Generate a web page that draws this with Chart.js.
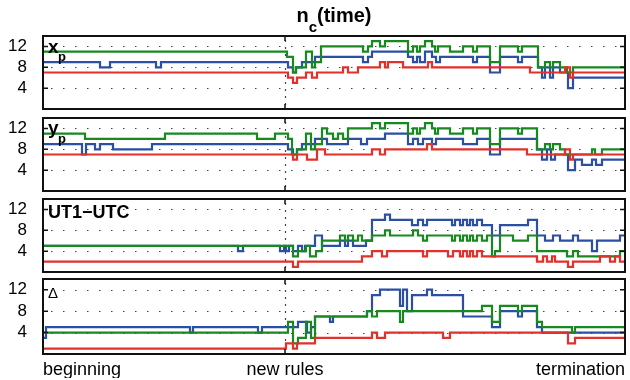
<!DOCTYPE html>
<html>
<head>
<meta charset="utf-8">
<script src="https://cdn.jsdelivr.net/npm/chart.js@4.4.0/dist/chart.umd.min.js"></script>
<style>
  body { margin: 0; background: #fff; }
  #wrap { position: relative; width: 630px; height: 380px; font-family: "Liberation Sans", Arial, sans-serif; color: #000; }
  #wrap canvas { position: absolute; left: 0; }
  .lbl { position: absolute; white-space: nowrap; line-height: 1; z-index: 2; }
</style>
</head>
<body>
<div id="wrap">
  <canvas id="c0" width="630" height="77" style="top:34px"></canvas>
  <canvas id="c1" width="630" height="77" style="top:116px"></canvas>
  <canvas id="c2" width="630" height="77" style="top:197px"></canvas>
  <canvas id="c3" width="630" height="103" style="top:277px"></canvas>

  <div class="lbl" style="top:5px;left:43px;width:582px;text-align:center;font-size:20px;font-weight:bold">n<span style="font-size:15px;position:relative;top:10px">c</span>(time)</div>
  <div class="lbl" style="top:37px;left:48px;font-size:19px;font-weight:bold">x</div>
  <div class="lbl" style="top:50px;left:58px;font-size:13px;font-weight:bold">p</div>
  <div class="lbl" style="top:118px;left:48px;font-size:19px;font-weight:bold">y</div>
  <div class="lbl" style="top:132px;left:58px;font-size:13px;font-weight:bold">p</div>
  <div class="lbl" style="top:203px;left:48px;font-size:18px;font-weight:bold">UT1&minus;UTC</div>
  <div class="lbl" style="top:285px;left:48px;font-size:15px">&Delta;</div>
</div>

<script>
// axis setup
const tickTimes = [0, 242, 582];
const tickLabels = ['beginning', 'new rules', 'termination'];
const yTicks = [4, 8, 12];

// step series: [time, n_c] change points
// x_p
const xpRed = [[0,7],[245,6],[250,5],[254,6],[263,7],[269,6],[274,7],[300,8],[305,7],[315,8],[337,9],[342,8],[345,9],[360,8],[385,9],[389,8],[487,7],[522,8],[527,6],[530,7],[582,7]];
const xpGreen = [[0,11],[244,10],[250,7],[253,8],[263,11],[269,8],[272,9],[278,12],[320,11],[325,12],[329,13],[337,12],[342,13],[365,11],[370,12],[374,11],[377,12],[382,13],[389,12],[392,11],[395,12],[407,11],[420,12],[430,11],[434,12],[447,9],[457,12],[475,11],[479,12],[495,8],[502,9],[507,8],[510,9],[517,8],[524,7],[530,8],[582,8]];
const xpBlue = [[0,9],[57,8],[67,9],[113,8],[118,9],[245,8],[250,7],[253,8],[259,9],[272,10],[320,9],[325,10],[329,11],[365,10],[370,9],[374,10],[377,9],[382,11],[389,10],[393,9],[397,10],[430,9],[434,10],[447,7],[457,10],[475,9],[479,10],[495,8],[499,6],[502,8],[507,6],[510,8],[517,7],[525,4],[530,6],[582,6]];

// y_p
const ypRed = [[0,7],[250,6],[254,7],[264,6],[274,8],[282,7],[329,8],[337,7],[342,8],[384,9],[389,8],[484,7],[522,8],[527,6],[530,7],[582,7]];
const ypGreen = [[0,11],[42,10],[122,11],[214,10],[232,11],[245,10],[249,7],[254,8],[263,11],[268,8],[272,9],[279,12],[284,11],[290,10],[295,11],[300,10],[305,12],[329,13],[337,12],[342,13],[365,11],[370,12],[374,11],[377,12],[382,13],[389,12],[392,11],[395,12],[407,11],[420,12],[430,11],[434,12],[447,9],[457,12],[475,11],[479,12],[494,8],[502,9],[507,8],[510,9],[517,8],[522,7],[549,8],[552,7],[559,8],[582,8]];
const ypBlue = [[0,9],[39,7],[43,9],[52,8],[57,9],[70,8],[109,9],[245,8],[250,7],[254,8],[259,9],[272,10],[284,9],[305,10],[318,9],[324,10],[342,11],[365,9],[370,10],[375,9],[380,10],[389,9],[393,10],[420,9],[434,10],[447,7],[457,10],[494,8],[499,6],[504,8],[508,6],[512,7],[525,4],[532,6],[539,5],[549,6],[553,5],[559,6],[582,6]];

// UT1-UTC
const utRed = [[0,2],[250,1],[255,2],[319,3],[329,4],[339,3],[344,4],[380,3],[384,4],[405,3],[410,4],[417,3],[420,4],[424,3],[427,4],[430,3],[434,4],[439,3],[494,2],[500,3],[504,2],[509,3],[512,2],[525,1],[530,2],[557,3],[567,2],[572,3],[577,2],[582,2]];
const utGreen = [[0,5],[250,3],[255,4],[263,5],[267,3],[273,4],[279,6],[297,7],[302,6],[305,7],[310,6],[315,7],[319,6],[329,7],[342,8],[347,7],[370,8],[375,7],[380,6],[384,7],[409,6],[412,7],[417,6],[420,7],[424,6],[427,7],[430,6],[434,7],[439,6],[444,7],[449,3],[452,4],[457,7],[470,6],[485,7],[494,4],[524,3],[530,4],[535,3],[577,4],[582,4]];
const utBlue = [[0,5],[195,4],[200,5],[237,4],[241,5],[243,4],[246,5],[250,4],[255,5],[259,4],[262,5],[272,7],[279,5],[297,6],[302,5],[305,6],[310,5],[323,6],[329,10],[342,11],[347,10],[369,9],[375,10],[380,9],[384,10],[409,9],[412,10],[417,9],[420,10],[424,9],[427,10],[430,9],[434,10],[439,9],[449,7],[457,9],[485,10],[494,7],[502,6],[510,7],[517,6],[530,7],[535,6],[549,4],[554,6],[577,7],[582,7]];

// Delta
const dRed = [[0,1],[243,2],[250,1],[254,2],[272,3],[329,4],[334,3],[342,4],[400,3],[407,4],[525,2],[532,3],[582,3]];
const dGreen = [[0,4],[245,6],[250,2],[255,3],[263,6],[268,3],[272,7],[324,8],[329,7],[334,8],[357,6],[360,8],[439,9],[449,6],[457,9],[475,8],[479,9],[494,6],[499,5],[529,4],[532,5],[582,5]];
const dBlue = [[0,3],[3,5],[147,4],[150,5],[215,4],[219,5],[255,6],[264,4],[268,5],[272,7],[287,6],[290,7],[324,8],[329,11],[337,12],[357,9],[360,12],[364,8],[369,11],[384,12],[389,11],[420,7],[449,5],[457,8],[475,7],[479,8],[494,5],[499,4],[582,4]];

const colors = {
    red: '#e2302a',
    green: '#17891f',
    blue: '#2a4fa3',
    frame: '#111',
    grid: '#444'
};

// dotted grid under the lines, box + inward ticks on top
const framePlugin = {
    id: 'frame',
    beforeDatasetsDraw(chart) {
        const { ctx, chartArea: a, scales: { x, y } } = chart;
        ctx.save();
        ctx.strokeStyle = colors.grid;
        ctx.lineWidth = 1.2;
        ctx.setLineDash([1.5, 10.5]);
        yTicks.forEach(v => {
            const py = Math.round(y.getPixelForValue(v)) + 0.5;
            ctx.beginPath(); ctx.moveTo(a.left + 8, py); ctx.lineTo(a.right, py); ctx.stroke();
        });
        ctx.setLineDash([2, 5]);
        tickTimes.slice(1, -1).forEach(t => {
            const px = Math.round(x.getPixelForValue(t)) + 0.5;
            ctx.beginPath(); ctx.moveTo(px, a.top + 4); ctx.lineTo(px, a.bottom); ctx.stroke();
        });
        ctx.restore();
    },
    afterDraw(chart) {
        const { ctx, chartArea: a, scales: { x, y } } = chart;
        ctx.save();
        ctx.strokeStyle = colors.frame;
        ctx.lineWidth = 1.5;
        yTicks.forEach(v => {
            const py = y.getPixelForValue(v);
            ctx.beginPath();
            ctx.moveTo(a.left, py); ctx.lineTo(a.left + 5, py);
            ctx.moveTo(a.right, py); ctx.lineTo(a.right - 5, py);
            ctx.stroke();
        });
        tickTimes.slice(1, -1).forEach(t => {
            const px = x.getPixelForValue(t);
            ctx.beginPath();
            ctx.moveTo(px, a.top); ctx.lineTo(px, a.top + 5);
            ctx.moveTo(px, a.bottom); ctx.lineTo(px, a.bottom - 5);
            ctx.stroke();
        });
        ctx.lineWidth = 2;
        ctx.strokeRect(a.left, a.top, a.right - a.left, a.bottom - a.top);
        ctx.restore();
    }
};

function line(points, color) {
    return {
        data: points.map(p => ({ x: p[0], y: p[1] })),
        borderColor: color,
        borderWidth: 2.2,
        stepped: true,
        pointRadius: 0,
        fill: false
    };
}

function makePanel(id, red, green, blue, showX) {
    new Chart(document.getElementById(id), {
        type: 'line',
        data: {
            // first dataset is painted last (on top)
            datasets: [line(red, colors.red), line(green, colors.green), line(blue, colors.blue)]
        },
        options: {
            responsive: false,
            animation: false,
            layout: { autoPadding: false, padding: { top: 2, bottom: 2, left: 0, right: 5 } },
            plugins: { legend: { display: false }, tooltip: { enabled: false } },
            scales: {
                x: {
                    type: 'linear',
                    min: tickTimes[0],
                    max: tickTimes[tickTimes.length - 1],
                    afterBuildTicks: s => { s.ticks = tickTimes.map(v => ({ value: v })); },
                    afterFit: s => {
                        s.height = showX ? 24 : 0;
                        s.paddingLeft = 0; s.paddingRight = 0;
                    },
                    grid: { display: false },
                    border: { display: false },
                    ticks: {
                        display: showX,
                        autoSkip: false,
                        maxRotation: 0,
                        align: 'inner',
                        padding: -3,
                        color: '#000',
                        font: { family: "'Liberation Sans', Arial, sans-serif", size: 18 },
                        callback: (v, i) => tickLabels[i]
                    }
                },
                y: {
                    min: 0,
                    max: 14,
                    afterBuildTicks: s => { s.ticks = yTicks.map(v => ({ value: v })); },
                    afterFit: s => {
                        s.width = 43;
                        s.paddingTop = 0; s.paddingBottom = 0;
                    },
                    grid: { display: false },
                    border: { display: false },
                    ticks: {
                        padding: 8,
                        color: '#000',
                        font: { family: "'Liberation Sans', Arial, sans-serif", size: 17 }
                    }
                }
            }
        },
        plugins: [framePlugin]
    });
}

makePanel('c0', xpRed, xpGreen, xpBlue, false);
makePanel('c1', ypRed, ypGreen, ypBlue, false);
makePanel('c2', utRed, utGreen, utBlue, false);
makePanel('c3', dRed, dGreen, dBlue, true);
</script>
</body>
</html>
